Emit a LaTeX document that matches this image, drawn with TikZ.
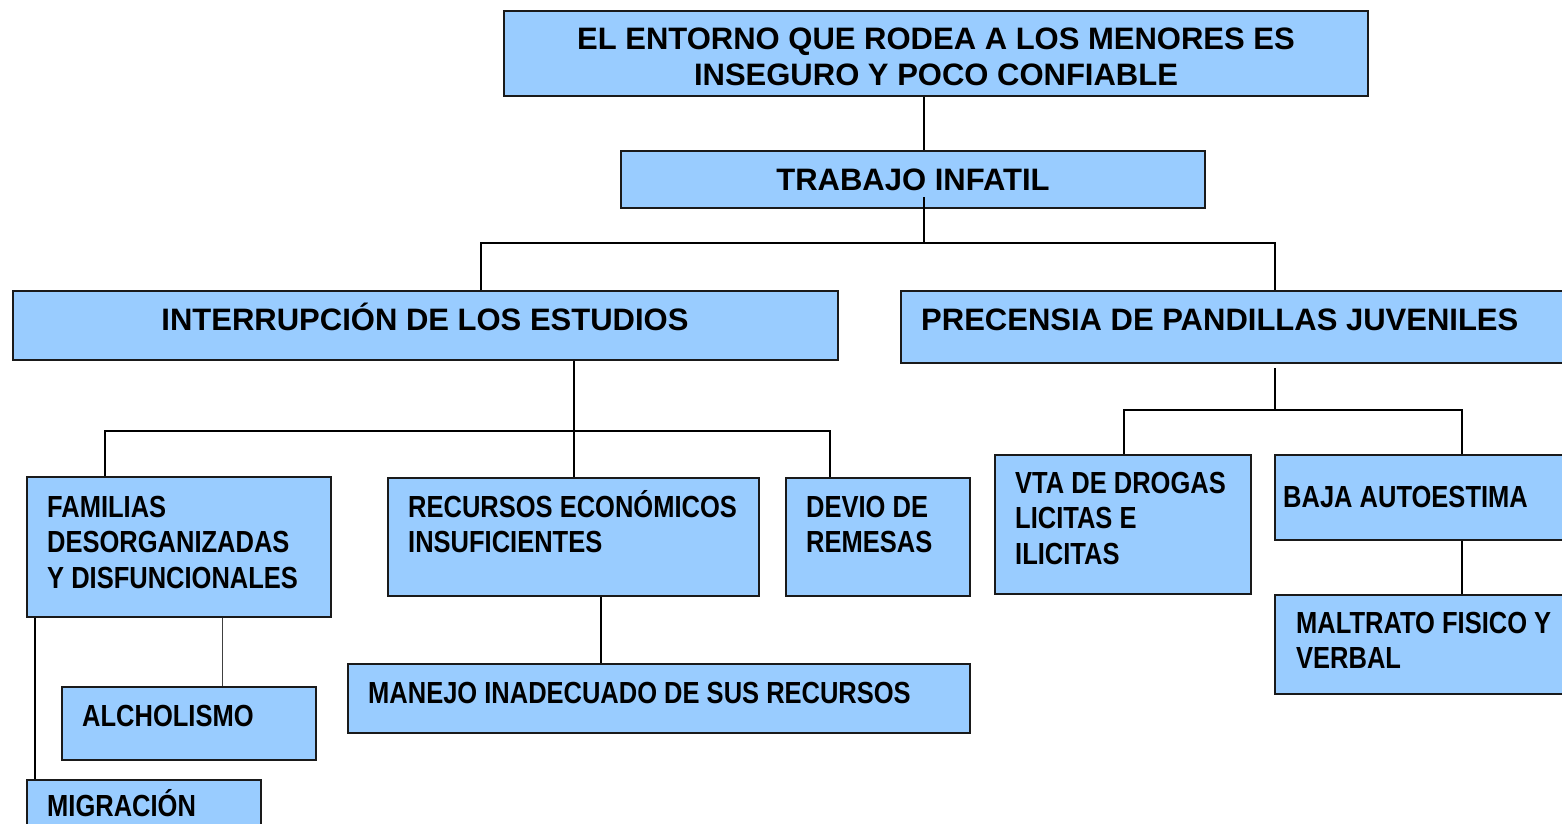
\documentclass[tikz,border=0pt]{standalone}
\usepackage{fontspec}
\setmainfont{Liberation Sans}
\newfontfamily\narrowfont[FakeStretch=0.836]{Liberation Sans}
\usetikzlibrary{fit,calc}
\definecolor{boxblue}{HTML}{99CCFF}
\definecolor{edgegray}{HTML}{1A1A1A}
\newcommand\mylinesl[1]{\begin{tabular}[t]{@{}l@{}}#1\end{tabular}}
\newcommand\mylinesc[1]{\begin{tabular}[t]{@{}c@{}}#1\end{tabular}}
\begin{document}
\begin{tikzpicture}[x=1pt,y=-1pt,
  box/.style={draw=edgegray, fill=boxblue, line width=1.4pt, inner sep=0pt, rectangle},
  widetxt/.style={font=\fontsize{31}{36}\selectfont\bfseries, inner sep=0pt},
  narrowtxt/.style={font=\narrowfont\fontsize{30.5}{35.5}\selectfont\bfseries, inner sep=0pt, anchor=base west},
  link/.style={line width=1.3pt, draw=black}]
\useasboundingbox (0,0) rectangle (1562,823);

% boxes
\node[box, fit={(504,11) (1368,96)}] (top) {};
\node[box, fit={(621,151) (1205,208)}] (trab) {};
\node[box, fit={(13,291) (838,360)}] (inte) {};
\node[box, fit={(901,291) (1570,363)}] (prec) {};
\node[box, fit={(27,477) (331,617)}] (fam) {};
\node[box, fit={(388,478) (759,596)}] (rec) {};
\node[box, fit={(786,478) (970,596)}] (dev) {};
\node[box, fit={(995,455) (1251,594)}] (vta) {};
\node[box, fit={(1275,455) (1570,540)}] (baja) {};
\node[box, fit={(1275,595) (1570,694)}] (malt) {};
\node[box, fit={(62,687) (316,760)}] (alc) {};
\node[box, fit={(348,664) (970,733)}] (man) {};
\node[box, fit={(27,780) (261,840)}] (mig) {};

% texts
\node[widetxt, anchor=base] (ttop) at (936,49) {\mylinesc{EL ENTORNO QUE RODEA A LOS MENORES ES\\INSEGURO Y POCO CONFIABLE}};
\node[widetxt, anchor=base] (ttrab) at (913,190) {TRABAJO INFATIL};
\node[widetxt, anchor=base] (tinte) at (425,330) {INTERRUPCIÓN DE LOS ESTUDIOS};
\node[widetxt, anchor=base west] (tprec) at (921,330) {PRECENSIA DE PANDILLAS JUVENILES};
\node[narrowtxt] (tfam) at (47,517) {\mylinesl{FAMILIAS\\DESORGANIZADAS\\Y DISFUNCIONALES}};
\node[narrowtxt] (trec) at (408,517) {\mylinesl{RECURSOS ECONÓMICOS\\INSUFICIENTES}};
\node[narrowtxt] (tdev) at (806,517) {\mylinesl{DEVIO DE\\REMESAS}};
\node[narrowtxt] (tvta) at (1015,493) {\mylinesl{VTA DE DROGAS\\LICITAS E\\ILICITAS}};
\node[narrowtxt] (tbaja) at (1283,507) {BAJA AUTOESTIMA};
\node[narrowtxt] (tmalt) at (1296,633) {\mylinesl{MALTRATO FISICO Y\\VERBAL}};
\node[narrowtxt] (talc) at (82,726) {ALCHOLISMO};
\node[narrowtxt] (tman) at (368,703) {MANEJO INADECUADO DE SUS RECURSOS};
\node[narrowtxt] (tmig) at (47,816) {MIGRACIÓN};

% junction coordinates
\coordinate (j1) at (924,243);
\coordinate (j1l) at (481,243);
\coordinate (j1r) at (1275,243);
\coordinate (j2) at (574,431);
\coordinate (j2l) at (105,431);
\coordinate (j2r) at (830,431);
\coordinate (j3) at (1275,410);
\coordinate (j3l) at (1124,410);
\coordinate (j3r) at (1462,410);
\coordinate (t1) at (924,197);
\coordinate (p1) at (1275,368);

% connectors
\draw[link] (top.south -| j1) -- (trab.north -| j1);
\draw[link] (t1) -- (j1);
\draw[link] (inte.north -| j1l) -- (j1l) -- (j1r) -- (prec.north -| j1r);
\draw[link] (inte.south -| j2) -- (rec.north -| j2);
\draw[link] (fam.north -| j2l) -- (j2l) -- (j2r) -- (dev.north -| j2r);
\draw[link] (p1) -- (j3);
\draw[link] (vta.north -| j3l) -- (j3l) -- (j3r) -- (baja.north -| j3r);
\draw[link] (baja.south -| j3r) -- (malt.north -| j3r);
\draw[link, line width=1pt, draw=black!75] (fam.south -| 222,0) -- (alc.north -| 222,0);
\draw[link] (fam.south -| 35,0) -- (mig.north -| 35,0);
\draw[link] (rec.south -| 601,0) -- (man.north -| 601,0);
\end{tikzpicture}
\end{document}
